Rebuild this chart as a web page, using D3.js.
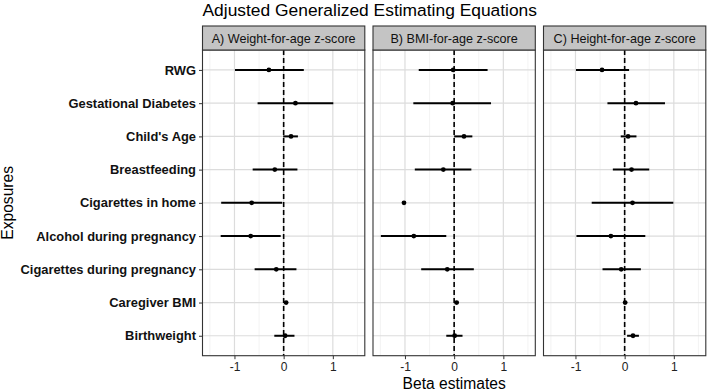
<!DOCTYPE html>
<html lang="en">
<head>
<meta charset="UTF-8">
<title>Adjusted GEE</title>
<script src="https://cdn.jsdelivr.net/npm/d3@7"></script>
<style>
  body { margin: 0; background: #fff; }
  text { font-family: 'Liberation Sans', Arial, sans-serif; }
</style>
</head>
<body>
<svg id="chart" width="708" height="392"></svg>
<script>
// exposures, top to bottom
const exposures = ["RWG", "Gestational Diabetes", "Child's Age", "Breastfeeding",
  "Cigarettes in home", "Alcohol during pregnancy", "Cigarettes during pregnancy",
  "Caregiver BMI", "Birthweight"];
const panels = ["A) Weight-for-age z-score", "B) BMI-for-age z-score", "C) Height-for-age z-score"];

// beta estimates and 95% CI, same order as exposures
const weightEst = [-0.30, 0.24, 0.15, -0.18, -0.65, -0.67, -0.15, 0.05, 0.03];
const weightLo  = [-0.99, -0.53, -0.01, -0.63, -1.27, -1.28, -0.59, 0.01, -0.19];
const weightHi  = [0.41, 1.01, 0.29, 0.28, -0.03, -0.06, 0.26, 0.09, 0.22];

const bmiEst = [-0.02, -0.03, 0.20, -0.22, -1.02, -0.82, -0.14, 0.05, 0.01];
const bmiLo  = [-0.72, -0.83, 0.00, -0.80, null, -1.49, -0.67, 0.01, -0.16];
const bmiHi  = [0.68, 0.75, 0.37, 0.35, null, -0.16, 0.40, 0.09, 0.17];

const heightEst = [-0.46, 0.23, 0.07, 0.14, 0.16, -0.28, -0.07, 0.01, 0.17];
const heightLo  = [-0.99, -0.35, -0.08, -0.24, -0.67, -0.98, -0.45, -0.02, 0.05];
const heightHi  = [0.09, 0.82, 0.24, 0.50, 0.99, 0.42, 0.33, 0.05, 0.29];

const xTicks = [-1, 0, 1];
const xMinor = [-1.5, -0.5, 0.5, 1.5];

const series = [
  {est: weightEst, lo: weightLo, hi: weightHi},
  {est: bmiEst, lo: bmiLo, hi: bmiHi},
  {est: heightEst, lo: heightLo, hi: heightHi}
];

const svg = d3.select("#chart");
const left = 202.5, panelW = 162.3, gap = 8.2;
const pTop = 50, pBottom = 355.7, stripH = 24;
const font = "'Liberation Sans', Arial, sans-serif";

const x = d3.scaleLinear().domain([-1.65, 1.65]).range([0, panelW]);
const y = d3.scalePoint().domain(exposures).range([pTop, pBottom]).padding(0.6);

svg.append("text")
  .attr("x", left).attr("y", 16)
  .style("font-size", "17.4px").style("fill", "#000")
  .text("Adjusted Generalized Estimating Equations");

panels.forEach((name, p) => {
  const s = series[p];
  const g = svg.append("g").attr("transform", `translate(${left + p * (panelW + gap)},0)`);

  // grid
  g.selectAll("line.minor").data(xMinor).join("line").attr("class", "minor")
    .attr("x1", d => x(d)).attr("x2", d => x(d)).attr("y1", pTop).attr("y2", pBottom)
    .style("stroke", "#eeeeee").style("stroke-width", 0.7);
  g.selectAll("line.major").data(xTicks).join("line").attr("class", "major")
    .attr("x1", d => x(d)).attr("x2", d => x(d)).attr("y1", pTop).attr("y2", pBottom)
    .style("stroke", "#dcdcdc").style("stroke-width", 1.2);
  g.selectAll("line.hgrid").data(exposures).join("line").attr("class", "hgrid")
    .attr("x1", 0).attr("x2", panelW).attr("y1", d => y(d)).attr("y2", d => y(d))
    .style("stroke", "#dcdcdc").style("stroke-width", 1.2);

  // zero reference
  g.append("line")
    .attr("x1", x(0)).attr("x2", x(0)).attr("y1", pTop).attr("y2", pBottom)
    .style("stroke", "#000").style("stroke-width", 1.6).style("stroke-dasharray", "5,3");

  // CIs and estimates
  const rows = exposures.map((e, i) => ({e, est: s.est[i], lo: s.lo[i], hi: s.hi[i]}));
  g.selectAll("line.ci").data(rows.filter(d => d.lo !== null)).join("line").attr("class", "ci")
    .attr("x1", d => x(d.lo)).attr("x2", d => x(d.hi))
    .attr("y1", d => y(d.e)).attr("y2", d => y(d.e))
    .style("stroke", "#000").style("stroke-width", 2);
  g.selectAll("circle").data(rows).join("circle")
    .attr("cx", d => x(d.est)).attr("cy", d => y(d.e)).attr("r", 2.4)
    .style("fill", "#000");

  // border
  g.append("rect").attr("x", 0).attr("y", pTop).attr("width", panelW).attr("height", pBottom - pTop)
    .style("fill", "none").style("stroke", "#333").style("stroke-width", 1.1);

  // strip
  g.append("rect").attr("x", 0).attr("y", pTop - stripH).attr("width", panelW).attr("height", stripH)
    .style("fill", "#c4c4c4").style("stroke", "#333").style("stroke-width", 1.1);
  g.append("text").attr("x", panelW / 2).attr("y", pTop - stripH / 2 + 4.5)
    .attr("text-anchor", "middle").style("font-size", "12.6px").style("fill", "#111")
    .text(name);

  // x axis
  const ax = g.append("g").attr("transform", `translate(0,${pBottom})`)
    .call(d3.axisBottom(x).tickValues(xTicks).tickFormat(d => String(d)).tickSize(3.5).tickPadding(3));
  ax.select(".domain").remove();
  ax.selectAll(".tick line").style("stroke", "#333");
  ax.selectAll(".tick text").style("font-size", "12px").style("fill", "#222")
    .style("font-family", font);

  if (p === 0) {
    const ay = g.append("g").call(d3.axisLeft(y).tickSize(3.5).tickPadding(3));
    ay.select(".domain").remove();
    ay.selectAll(".tick line").style("stroke", "#333");
    ay.selectAll(".tick text").style("font-size", "12.9px").style("font-weight", "bold")
      .style("fill", "#111").style("font-family", font);
  }
});

svg.append("text")
  .attr("x", left + (3 * panelW + 2 * gap) / 2).attr("y", 389)
  .attr("text-anchor", "middle").style("font-size", "15.6px").style("fill", "#000")
  .text("Beta estimates");

svg.append("text")
  .attr("transform", `translate(13,${(pTop + pBottom) / 2}) rotate(-90)`)
  .attr("text-anchor", "middle").style("font-size", "15.6px").style("fill", "#000")
  .text("Exposures");
</script>
</body>
</html>
